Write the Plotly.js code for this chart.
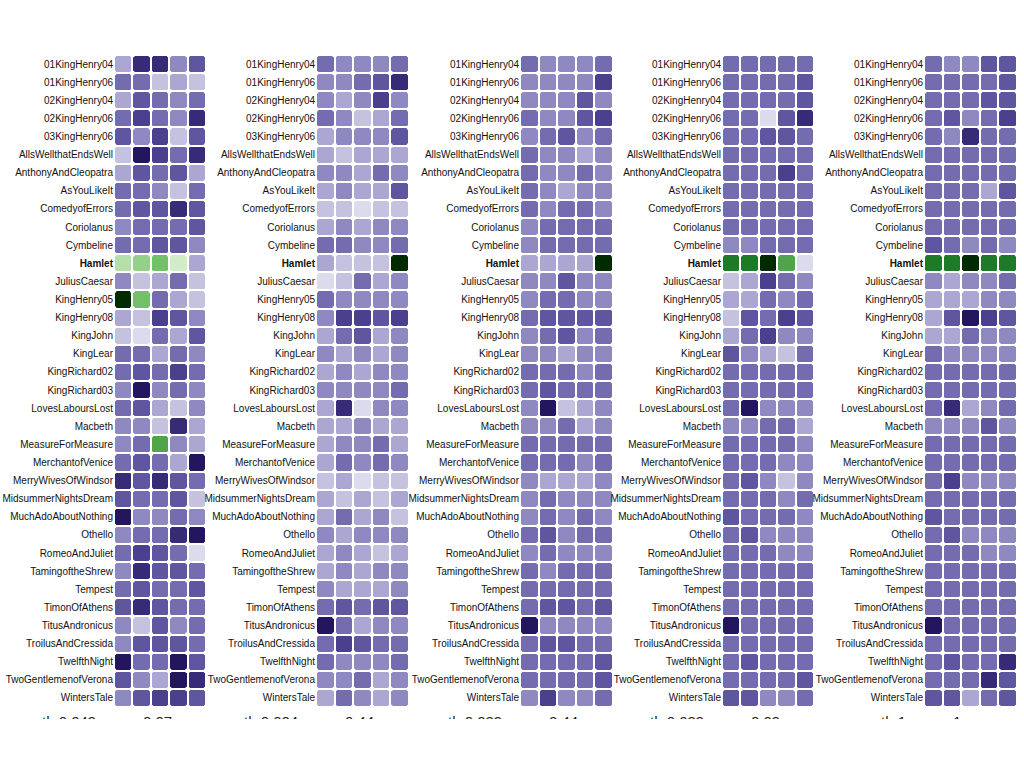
<!DOCTYPE html>
<html><head><meta charset="utf-8">
<script src="https://cdn.plot.ly/plotly-3.0.1.min.js"></script>
<style>html,body{margin:0;padding:0;background:#fff;}#chart{width:1024px;height:719px;}</style>
</head><body><div id="chart"></div>
<script>
// Plays (rows, top to bottom)
const plays = ["01KingHenry04","01KingHenry06","02KingHenry04","02KingHenry06","03KingHenry06","AllsWellthatEndsWell","AnthonyAndCleopatra","AsYouLikeIt","ComedyofErrors","Coriolanus","Cymbeline","Hamlet","JuliusCaesar","KingHenry05","KingHenry08","KingJohn","KingLear","KingRichard02","KingRichard03","LovesLaboursLost","Macbeth","MeasureForMeasure","MerchantofVenice","MerryWivesOfWindsor","MidsummerNightsDream","MuchAdoAboutNothing","Othello","RomeoAndJuliet","TamingoftheShrew","Tempest","TimonOfAthens","TitusAndronicus","TroilusAndCressida","TwelfthNight","TwoGentlemenofVerona","WintersTale"];
// Cell levels: 1..9 purple intensity, 11..19 green intensity
const panel1 = [[3,8,8,4,6],[5,5,2,3,2],[3,6,5,4,5],[5,7,5,4,8],[6,4,7,2,6],[2,9,7,5,8],[3,6,5,6,3],[5,5,4,2,5],[5,6,6,8,6],[4,5,5,5,6],[5,5,6,6,4],[12,13,14,11,3],[4,2,3,5,2],[19,14,5,3,2],[3,2,7,6,4],[2,1,5,3,6],[5,5,3,5,4],[5,6,5,7,5],[4,9,4,5,4],[5,6,3,2,4],[4,4,2,8,3],[4,5,15,4,3],[5,6,5,3,9],[8,6,8,6,5],[6,5,5,6,2],[9,4,4,5,4],[4,5,5,8,9],[5,7,6,5,1],[4,8,6,6,5],[5,6,5,5,6],[6,8,6,5,5],[4,2,6,4,5],[4,6,6,6,5],[9,5,5,9,6],[6,4,3,9,8],[4,6,7,7,6]];
const panel2 = [[5,4,4,4,5],[4,4,5,6,8],[4,3,4,7,4],[5,4,2,3,5],[3,4,4,4,6],[3,2,3,3,3],[4,4,3,5,4],[3,4,3,3,6],[2,2,1,2,2],[3,4,3,4,4],[5,5,4,4,5],[3,2,2,2,19],[1,2,5,3,4],[5,4,4,4,4],[4,7,7,6,7],[3,5,6,3,4],[4,3,4,3,4],[3,4,3,4,4],[4,4,4,4,5],[3,8,1,4,4],[3,3,4,3,3],[3,4,4,5,3],[3,5,4,5,4],[2,3,1,2,2],[3,2,3,2,3],[3,5,3,4,2],[4,3,4,4,4],[3,4,3,2,3],[3,4,3,4,4],[4,3,3,3,4],[5,6,5,6,6],[9,5,3,4,4],[5,7,6,5,5],[5,4,4,4,5],[4,4,5,3,4],[3,5,4,3,4]];
const panel3 = [[5,4,4,4,5],[4,4,4,4,7],[4,4,4,6,4],[5,4,4,6,7],[4,5,6,4,5],[5,4,4,3,4],[5,4,4,5,4],[5,4,3,4,4],[5,4,5,5,4],[4,5,5,5,5],[4,5,5,5,5],[3,3,3,3,19],[4,4,6,4,4],[4,5,5,4,4],[5,6,6,6,6],[4,5,6,4,5],[4,4,3,4,4],[5,5,5,4,5],[5,6,5,5,5],[4,9,2,3,4],[4,4,5,3,4],[5,5,5,5,5],[5,5,5,4,5],[4,3,3,3,4],[4,5,4,4,4],[4,5,4,5,4],[5,6,4,5,5],[4,5,4,4,4],[5,4,5,5,5],[5,5,5,5,5],[5,6,6,5,6],[9,4,4,4,4],[5,6,6,5,5],[5,5,5,5,6],[5,5,5,5,6],[4,7,4,4,5]];
const panel4 = [[5,5,5,5,5],[5,5,5,5,6],[5,5,5,5,6],[5,5,1,6,8],[5,5,6,6,5],[5,5,5,5,5],[5,5,5,7,5],[5,5,5,5,5],[5,5,5,5,5],[5,5,5,5,5],[4,4,5,5,5],[17,17,19,15,1],[2,3,7,5,4],[3,3,5,4,5],[2,6,5,7,6],[3,5,7,4,4],[6,4,3,2,5],[5,5,5,5,5],[5,5,5,5,5],[5,9,4,4,4],[4,4,5,5,3],[5,5,5,5,4],[5,5,5,4,4],[5,6,4,2,4],[5,5,5,4,5],[6,5,5,5,4],[5,6,4,4,4],[5,5,5,4,4],[5,5,5,5,5],[5,5,5,5,5],[5,5,5,5,5],[9,5,5,5,5],[5,5,5,5,5],[5,6,5,5,5],[5,5,5,5,6],[6,6,4,4,5]];
const panel5 = [[5,4,4,6,6],[5,5,5,5,6],[5,5,5,6,6],[5,6,4,5,7],[5,4,8,5,5],[5,5,5,5,5],[5,5,5,5,5],[5,5,5,3,6],[5,5,5,5,5],[5,5,5,5,5],[6,5,4,5,4],[17,17,19,17,17],[4,3,4,4,5],[3,3,3,4,4],[3,6,9,7,6],[3,3,5,4,4],[5,4,4,4,4],[5,5,5,5,5],[5,5,5,5,5],[5,8,3,4,5],[4,4,4,6,4],[5,5,5,5,5],[5,5,5,5,5],[5,7,4,4,4],[5,5,5,5,5],[6,5,5,5,5],[5,6,4,4,4],[5,5,5,4,4],[5,5,5,5,5],[5,5,5,5,5],[5,5,5,5,5],[9,5,5,5,5],[5,5,5,5,5],[5,6,5,5,8],[5,5,5,8,6],[6,6,3,5,6]];
const columns = [1,2,3,4,5];
const footLeft = ["th 0.049","th 0.004","th 0.029","th 0.039","th 1"];
const footRight = ["0.07","0.44","0.44","0.09","1"];

const panels = [panel1,panel2,panel3,panel4,panel5];
const colorscale = [
 [0,"#dcdaed"],[0.0556,"#c5c2e0"],[0.1111,"#aba7d2"],[0.1667,"#8f89c2"],[0.2222,"#736caf"],
 [0.2778,"#5e569f"],[0.3333,"#4a408d"],[0.3889,"#372b78"],[0.4444,"#24165e"],[0.5,"#24165e"],
 [0.5,"#d2ecc9"],[0.5556,"#d2ecc9"],[0.6111,"#b4dfa9"],[0.6667,"#95d08a"],[0.7222,"#73c06a"],
 [0.7778,"#4ea54c"],[0.8333,"#2f8d36"],[0.8889,"#1d7a26"],[0.9444,"#0c5514"],[1,"#002a00"]];
const W = 1024, H = 719;
const px = [[114,206],[316,409],[520,613],[722,814],[924,1017]];
const yTop = 55, yBot = 707;
const rowIdx = plays.map((_, k) => k);
const ticktext = plays.map(p => p === "Hamlet" ? "<b>Hamlet</b>" : p);

// grid corner points (white rounding at each cell corner)
const cx = [], cy = [];
for (let a = 0; a <= columns.length; a++) {
  for (let b = 0; b <= plays.length; b++) { cx.push(a + 0.5); cy.push(b - 0.5); }
}

const data = [];
const layout = {
  width: W, height: H, margin: {l:0,r:0,t:0,b:0},
  paper_bgcolor: "#fff", plot_bgcolor: "#fff", showlegend: false,
  font: {family: "Liberation Sans, Arial, sans-serif", size: 10, color: "#222"},
  annotations: []
};
panels.forEach((p, i) => {
  const n = i === 0 ? "" : String(i + 1);
  data.push({
    type: "heatmap", z: p, x: columns, y: rowIdx,
    xaxis: "x" + n, yaxis: "y" + n,
    colorscale: colorscale, zmin: 1, zmax: 19, showscale: false,
    xgap: 2, ygap: 2, hoverinfo: "skip"
  });
  data.push({
    type: "scatter", mode: "markers", x: cx, y: cy,
    xaxis: "x" + n, yaxis: "y" + n,
    marker: {symbol: "circle", size: 5, color: "#ffffff", line: {width: 0}},
    hoverinfo: "skip"
  });
  layout["xaxis" + n] = {
    domain: [px[i][0] / W, px[i][1] / W], anchor: "y" + n,
    showgrid: false, zeroline: false, showticklabels: false, ticks: "", showline: false,
    range: [0.5, 5.5], fixedrange: true
  };
  layout["yaxis" + n] = {
    domain: [1 - yBot / H, 1 - yTop / H], anchor: "x" + n,
    range: [plays.length - 0.5, -0.5],
    tickmode: "array", tickvals: rowIdx, ticktext: ticktext, ticks: "", ticklabelstandoff: 0,
    showgrid: false, zeroline: false, showline: false,
    tickfont: {family: "Liberation Sans, Arial, sans-serif", size: 10, color: "#111"}, fixedrange: true
  };
  layout.annotations.push({
    xref: "paper", yref: "paper", x: (px[i][0] - 16) / W, y: (H - 711) / H,
    xanchor: "right", yanchor: "top", text: footLeft[i], showarrow: false,
    font: {size: 15, color: "#222"}
  });
  layout.annotations.push({
    xref: "paper", yref: "paper", x: (px[i][0] + 27) / W, y: (H - 711) / H,
    xanchor: "left", yanchor: "top", text: footRight[i], showarrow: false,
    font: {size: 15, color: "#222"}
  });
});
Plotly.newPlot("chart", data, layout, {displayModeBar: false, staticPlot: true});
</script></body></html>
